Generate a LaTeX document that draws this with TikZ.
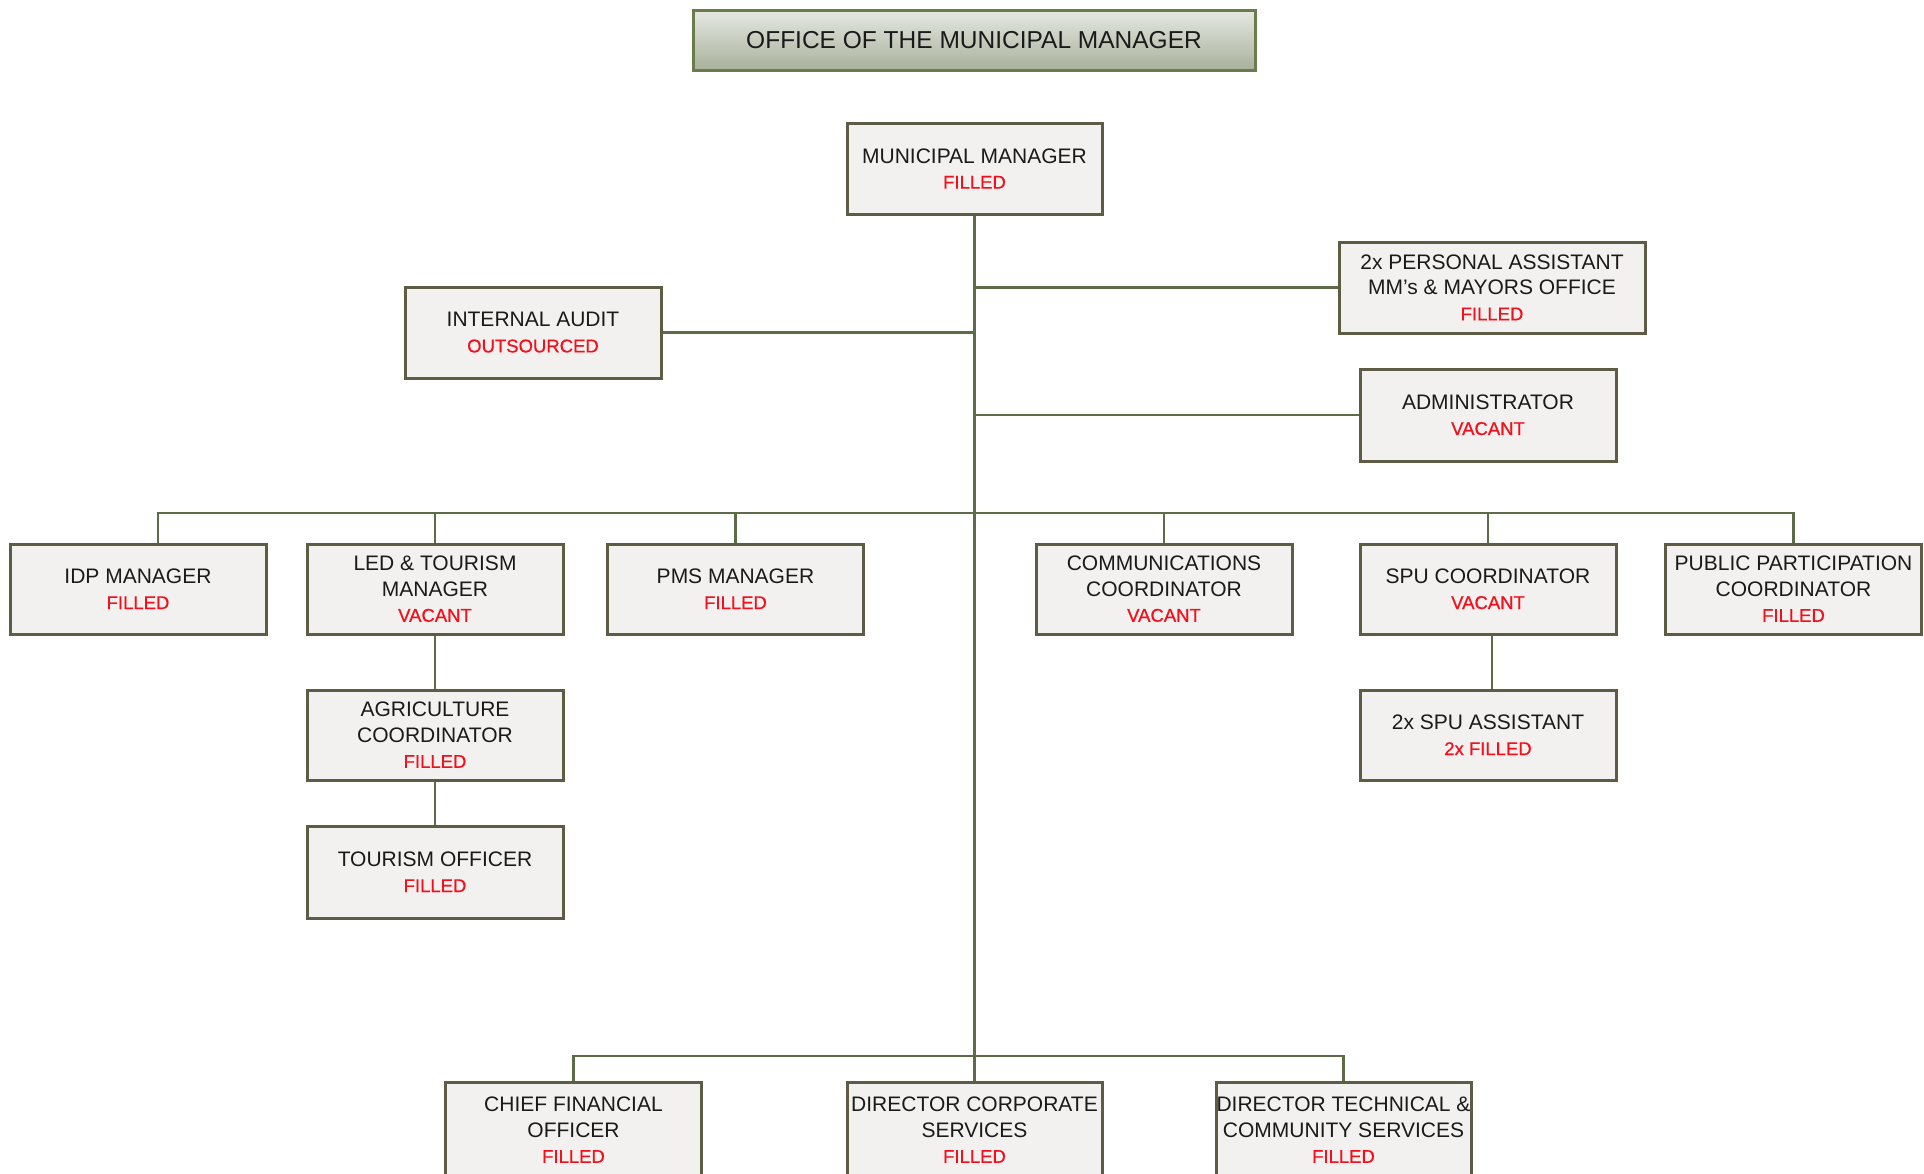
\documentclass[tikz,border=0pt]{standalone}
\usepackage{fontspec}
\setmainfont{Liberation Sans}
\newfontfamily\statfont[FakeBold=0.6]{Liberation Sans}
\definecolor{boxfill}{HTML}{F2F1EF}
\definecolor{boxline}{HTML}{5E5C45}
\definecolor{linkcol}{HTML}{5D6B48}
\definecolor{stat}{HTML}{F2101C}
\definecolor{ink}{HTML}{1A1A1A}
\definecolor{titletop}{HTML}{E6E8E2}
\definecolor{titlebot}{HTML}{A7B19B}
\definecolor{titleline}{HTML}{6A7B4C}
\newcommand\mainsz{\fontsize{21}{25.5}\selectfont}
\newcommand\st[1]{\\{\color{stat}\statfont\fontsize{18.5}{25.5}\selectfont #1}}
\begin{document}
\begin{tikzpicture}[x=1pt,y=-1pt,
  box/.style={draw=boxline, line width=3pt, fill=boxfill, minimum width=256pt,
    minimum height=91pt, inner sep=0pt, align=center, font=\mainsz, text=ink},
  link/.style={draw=linkcol, line width=2.5pt}]
\clip (0,0) rectangle (1924,1173);
\fill[white] (0,0) rectangle (1924,1173);

% heading
\node[draw=titleline, line width=3pt, top color=titletop, bottom color=titlebot,
  minimum width=562pt, minimum height=60pt, inner sep=0pt, text=ink,
  font=\fontsize{24.5}{28}\selectfont] (title) at (974,40) {OFFICE OF THE MUNICIPAL MANAGER};

% positions
\node[box, minimum width=255pt] (mm) at (974.5,168.5) {MUNICIPAL MANAGER\st{FILLED}};
\node[box] (ia) at (533,332.5) {INTERNAL AUDIT\st{OUTSOURCED}};
\node[box, minimum width=306pt] (pa) at (1492,287.5) {2x PERSONAL ASSISTANT\\MM’s \& MAYORS OFFICE\st{FILLED}};
\node[box, minimum height=92pt] (adm) at (1488,415) {ADMINISTRATOR\st{VACANT}};

\node[box, minimum height=90pt] (idp) at (138,589) {IDP MANAGER\st{FILLED}};
\node[box, minimum height=90pt] (led) at (435,589) {LED \& TOURISM\\MANAGER\st{VACANT}};
\node[box, minimum height=90pt] (pms) at (735.5,589) {PMS MANAGER\st{FILLED}};
\node[box, minimum height=90pt] (comm) at (1164,589) {COMMUNICATIONS\\COORDINATOR\st{VACANT}};
\node[box, minimum height=90pt] (spu) at (1488,589) {SPU COORDINATOR\st{VACANT}};
\node[box, minimum height=90pt] (pp) at (1793.5,589) {PUBLIC PARTICIPATION\\COORDINATOR\st{FILLED}};

\node[box, minimum height=90pt] (agri) at (435,735) {AGRICULTURE\\COORDINATOR\st{FILLED}};
\node[box, minimum height=92pt] (tour) at (435,872) {TOURISM OFFICER\st{FILLED}};
\node[box, minimum height=90pt] (spua) at (1488,735) {2x SPU ASSISTANT\st{2x FILLED}};

\node[box, minimum height=96pt] (cfo) at (573.5,1130) {CHIEF FINANCIAL\\OFFICER\st{FILLED}};
\node[box, minimum height=96pt, minimum width=255pt] (dcs) at (974.5,1130) {DIRECTOR CORPORATE\\SERVICES\st{FILLED}};
\node[box, minimum height=96pt, minimum width=255pt] (dtcs) at (1343.5,1130) {DIRECTOR TECHNICAL \&\\COMMUNITY SERVICES\st{FILLED}};

% reporting lines
\coordinate (bus) at (974.5,513);
\coordinate (bus2) at (974.5,1056);
\draw[link] (mm.south) -- (dcs.north);
\draw[link] (ia.east) -- (ia.east -| mm.south);
\draw[link] (pa.west) -- (pa.west -| mm.south);
\draw[link] (adm.west) -- (adm.west -| mm.south);
\draw[link] (bus) -| ([xshift=20pt]idp.north);
\draw[link] (bus) -| (led.north);
\draw[link] (bus) -| (pms.north);
\draw[link] (bus) -| (comm.north);
\draw[link] (bus) -| (spu.north);
\draw[link] (bus) -| (pp.north);
\draw[link] (bus2) -| (cfo.north);
\draw[link] (bus2) -| (dtcs.north);
\draw[link] (led.south) -- (agri.north);
\draw[link] (agri.south) -- (tour.north);
\draw[link] ([xshift=4pt]spu.south) -- ([xshift=4pt]spua.north);
\end{tikzpicture}
\end{document}
